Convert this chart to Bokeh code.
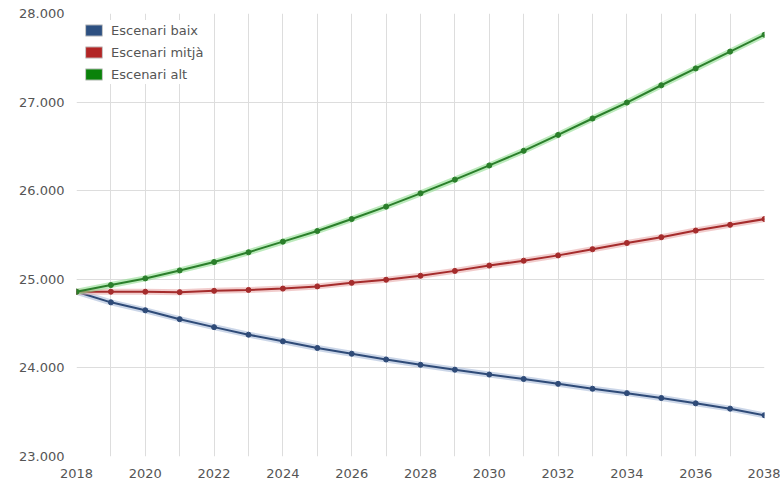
from bokeh.plotting import figure
from bokeh.models import (FixedTicker, CustomJSTickFormatter, Legend, LegendItem,
                          ColumnDataSource, Range1d)
from bokeh.embed import file_html
from bokeh.resources import INLINE

years = list(range(2018, 2039))
baix = [24860, 24740, 24650, 24550, 24460, 24375, 24300, 24225, 24160, 24095, 24035,
        23980, 23925, 23875, 23820, 23765, 23715, 23660, 23600, 23540, 23465]
mitja = [24860, 24860, 24860, 24855, 24870, 24880, 24895, 24920, 24960, 24995, 25040,
         25095, 25155, 25210, 25270, 25340, 25410, 25475, 25550, 25615, 25680]
alt = [24860, 24935, 25010, 25100, 25195, 25305, 25425, 25545, 25680, 25820, 25970,
       26125, 26285, 26450, 26630, 26815, 26995, 27190, 27380, 27570, 27760]
labels = ["Escenari baix", "Escenari mitjà", "Escenari alt"]
x_ticks = list(range(2018, 2039, 2))
y_ticks = [23000, 24000, 25000, 26000, 27000, 28000]

series = [baix, mitja, alt]
line_colors = ["#2f4b78", "#a52c2c", "#2b7f2b"]
glow_colors = ["#a8bbd8", "#e7aaaa", "#8fdc8f"]
swatch_colors = ["#2d5081", "#b22525", "#0a820a"]

p = figure(frame_width=688, frame_height=443, output_backend="svg", toolbar_location=None,
           x_range=Range1d(2018, 2038), y_range=Range1d(23000, 28000),
           min_border_left=76, min_border_right=16, min_border_top=13, min_border_bottom=22)
p.outline_line_color = None
p.background_fill_color = "white"
p.border_fill_color = "white"

for ax in (p.xaxis[0], p.yaxis[0]):
    ax.axis_line_color = None
    ax.major_tick_line_color = None
    ax.minor_tick_line_color = None
    ax.major_label_text_font = "DejaVu Sans"
    ax.major_label_text_font_size = "13px"
    ax.major_label_text_color = "#555555"
    ax.major_label_standoff = 6

p.xaxis.ticker = FixedTicker(ticks=x_ticks)
p.yaxis.ticker = FixedTicker(ticks=y_ticks)
p.yaxis.formatter = CustomJSTickFormatter(
    code="return tick.toFixed(0).replace(/\\B(?=(\\d{3})+(?!\\d))/g, '.');")

p.xgrid.ticker = FixedTicker(ticks=years[:-1])
p.ygrid.ticker = FixedTicker(ticks=y_ticks)
p.xgrid.grid_line_color = "#dddddd"
p.ygrid.grid_line_color = "#dddddd"

for vals, lc, gc in zip(series, line_colors, glow_colors):
    src = ColumnDataSource(dict(x=years, y=vals))
    p.line("x", "y", source=src, line_color=gc, line_width=6, line_alpha=0.6)
    p.line("x", "y", source=src, line_color=lc, line_width=2)
    p.scatter("x", "y", source=src, size=5, fill_color=lc, line_color=lc)

items = []
for lab, sc in zip(labels, swatch_colors):
    r = p.rect(x=[1900], y=[0], width=1, height=1, fill_color=sc, line_color="#c8c8c8")
    items.append(LegendItem(label=lab, renderers=[r]))

legend = Legend(items=items, location="top_left", margin=7, padding=6,
                glyph_width=21, glyph_height=14, label_height=20, spacing=2,
                label_standoff=7, label_text_font="DejaVu Sans",
                label_text_font_size="13px", label_text_color="#555555",
                border_line_color=None, background_fill_color="white",
                background_fill_alpha=1.0)
p.add_layout(legend, "center")

open("out.html", "w").write(file_html(p, INLINE))
